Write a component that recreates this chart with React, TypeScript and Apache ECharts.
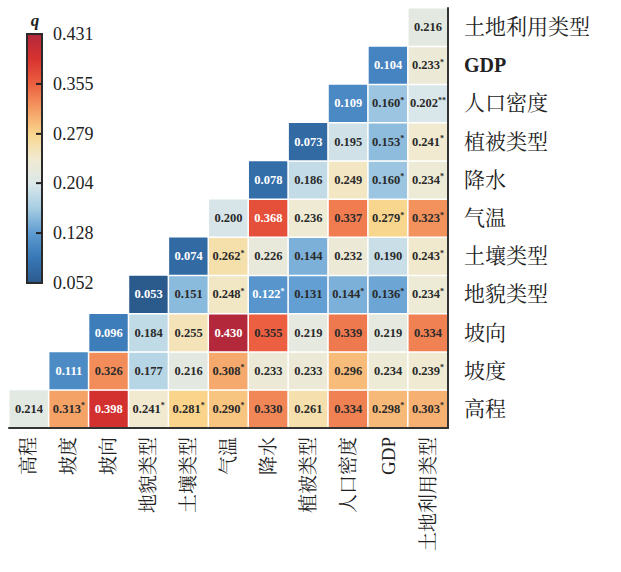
import React, { useEffect, useRef } from "react";
import * as echarts from "echarts";

const categories = ["高程", "坡度", "坡向", "地貌类型", "土壤类型", "气温", "降水", "植被类型", "人口密度", "GDP", "土地利用类型"];

// q values, row r holds columns r..10
const qRows: number[][] = [
  [0.214, 0.313, 0.398, 0.241, 0.281, 0.29, 0.33, 0.261, 0.334, 0.298, 0.303],
  [0.111, 0.326, 0.177, 0.216, 0.308, 0.233, 0.233, 0.296, 0.234, 0.239],
  [0.096, 0.184, 0.255, 0.43, 0.355, 0.219, 0.339, 0.219, 0.334],
  [0.053, 0.151, 0.248, 0.122, 0.131, 0.144, 0.136, 0.234],
  [0.074, 0.262, 0.226, 0.144, 0.232, 0.19, 0.243],
  [0.2, 0.368, 0.236, 0.337, 0.279, 0.323],
  [0.078, 0.186, 0.249, 0.16, 0.234],
  [0.073, 0.195, 0.153, 0.241],
  [0.109, 0.16, 0.202],
  [0.104, 0.233],
  [0.216],
];

const sigRows: string[][] = [
  ["", "*", "", "*", "*", "*", "", "", "", "*", "*"],
  ["", "", "", "", "*", "", "", "", "", "*"],
  ["", "", "", "", "", "", "", "", ""],
  ["", "", "*", "*", "", "*", "*", "*"],
  ["", "*", "", "", "", "", "*"],
  ["", "", "", "", "*", "*"],
  ["", "", "", "*", "*"],
  ["", "", "*", "*"],
  ["", "*", "**"],
  ["", "*"],
  [""],
];

const qMin = 0.052;
const qMax = 0.431;
const colorbarTicks = ["0.431", "0.355", "0.279", "0.204", "0.128", "0.052"];
const palette = ["#2b5a8c", "#3777b6", "#5d9bd0", "#a6cde3", "#dce8ea", "#f1ead0", "#f9d68c", "#f49b62", "#ec5f40", "#d8322f", "#b2283a"];

const SERIF = '"Liberation Serif", "Times New Roman", "Noto Serif CJK SC", "Noto Sans CJK SC", serif';

export default function App() {
  const ref = useRef<HTMLDivElement>(null);
  useEffect(() => {
    document.body.style.margin = "0";
    if (!ref.current) return;
    const chart = echarts.init(ref.current, undefined, { renderer: "svg" });

    const data: any[] = [];
    qRows.forEach((row, r) => {
      row.forEach((v, i) => {
        data.push([r + i, r, v, sigRows[r][i]]);
      });
    });

    const cbLeft = 27;
    const cbTop = 34;
    const cbW = 15;
    const cbH = 249;
    const graphics: any[] = [
      {
        type: "rect",
        shape: { x: cbLeft, y: cbTop, width: cbW, height: cbH },
        style: { fill: "none", stroke: "#2a2a2a", lineWidth: 2 },
        z: 100,
      },
      {
        type: "text",
        x: 35,
        y: 20,
        style: {
          text: "q",
          fontFamily: SERIF,
          fontStyle: "italic",
          fontWeight: "bold",
          fontSize: 17,
          fill: "#222",
          align: "center",
          verticalAlign: "middle",
        },
        z: 100,
      },
    ];
    colorbarTicks.forEach((t) => {
      const v = parseFloat(t);
      const y = cbTop + ((qMax - v) / (qMax - qMin)) * cbH;
      graphics.push({
        type: "text",
        x: 53,
        y,
        style: { text: t, fontFamily: SERIF, fontSize: 18, fill: "#222", verticalAlign: "middle" },
        z: 100,
      });
      if (v > qMin + 0.001 && v < qMax - 0.001) {
        graphics.push({
          type: "line",
          shape: { x1: cbLeft + cbW - 6, y1: y, x2: cbLeft + cbW, y2: y },
          style: { stroke: "#222", lineWidth: 2 },
          z: 100,
        });
      }
    });

    const rich = {
      dk: { fontFamily: SERIF, fontSize: 12.5, fontWeight: "bold", color: "#2a2a2a", lineHeight: 14 },
      dks: { fontFamily: SERIF, fontSize: 8, fontWeight: "bold", color: "#2a2a2a", verticalAlign: "top", lineHeight: 14 },
      wt: { fontFamily: SERIF, fontSize: 12.5, fontWeight: "bold", color: "#ffffff", lineHeight: 14 },
      wts: { fontFamily: SERIF, fontSize: 8, fontWeight: "bold", color: "#ffffff", verticalAlign: "top", lineHeight: 14 },
    };

    chart.setOption({
      animation: false,
      backgroundColor: "#ffffff",
      grid: { left: 9, right: 173, top: 8, bottom: 144, containLabel: false },
      xAxis: {
        type: "category",
        data: categories,
        position: "bottom",
        z: 10,
        axisLine: { show: true, lineStyle: { color: "#333", width: 2 } },
        axisTick: { show: false },
        splitLine: { show: false },
        axisLabel: {
          rotate: 90,
          margin: 9,
          interval: 0,
          fontFamily: SERIF,
          fontSize: 19,
          color: "#222",
        },
      },
      yAxis: {
        type: "category",
        data: categories,
        position: "right",
        z: 10,
        axisLine: { show: true, lineStyle: { color: "#333", width: 2 } },
        axisTick: { show: false },
        splitLine: { show: false },
        axisLabel: {
          margin: 16,
          interval: 0,
          fontFamily: SERIF,
          fontSize: 21,
          color: "#222",
          formatter: (s: string) => (s === "GDP" ? "{g|GDP}" : s),
          rich: { g: { fontFamily: SERIF, fontSize: 20, fontWeight: "bold", color: "#222" } },
        },
      },
      visualMap: {
        type: "continuous",
        min: qMin,
        max: qMax,
        dimension: 2,
        orient: "vertical",
        left: cbLeft,
        top: cbTop,
        itemWidth: cbW,
        itemHeight: cbH,
        padding: 0,
        calculable: false,
        hoverLink: false,
        inRange: { color: palette },
        seriesIndex: 0,
      },
      graphic: graphics,
      series: [
        {
          type: "heatmap",
          data,
          itemStyle: { borderColor: "#ffffff", borderWidth: 1.5 },
          emphasis: { disabled: true },
          label: {
            show: true,
            formatter: (p: any) => {
              const v = p.data[2] as number;
              const s = p.data[3] as string;
              const white = v <= 0.125 || v >= 0.36;
              const a = white ? "wt" : "dk";
              return `{${a}|${v.toFixed(3)}}` + (s ? `{${a}s|${s}}` : "");
            },
            rich,
          },
        },
      ],
    });
    return () => chart.dispose();
  }, []);
  return <div ref={ref} style={{ width: 621, height: 572 }} />;
}
